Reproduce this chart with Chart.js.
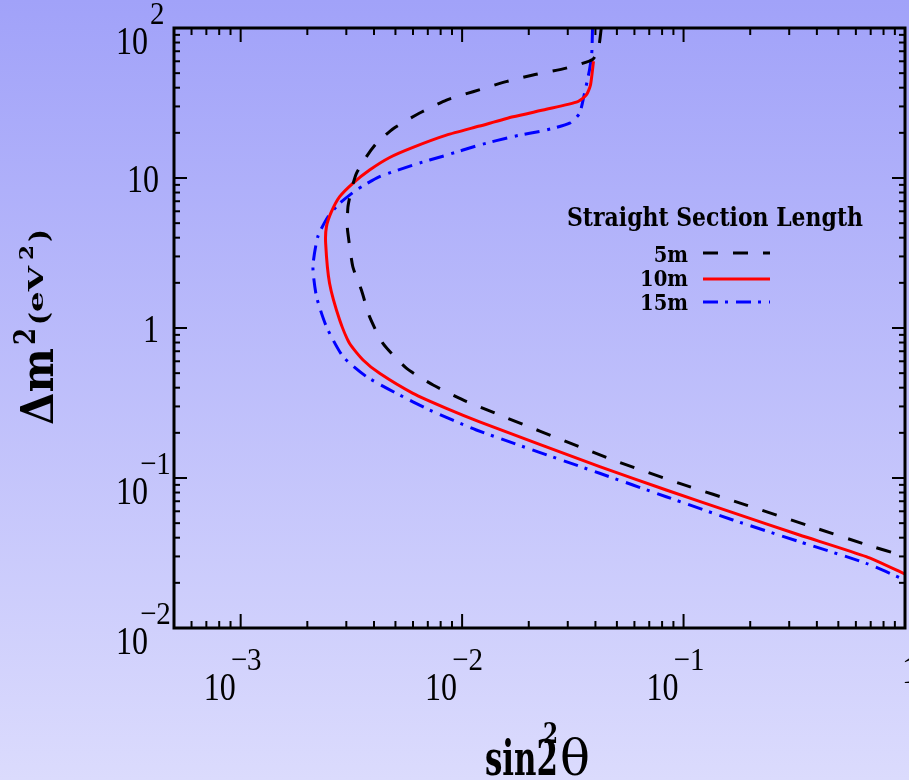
<!DOCTYPE html>
<html><head><meta charset="utf-8">
<script src="https://cdn.jsdelivr.net/npm/chart.js@4/dist/chart.umd.min.js"></script>
<style>
html,body{margin:0;padding:0;background:linear-gradient(#a1a2f9,#dbdbfd);}
canvas{display:block}
</style>
</head><body>
<canvas id="c" width="909" height="780"></canvas>
<script>
// ---- data ----
const seriesNames = ['5m', '10m', '15m'];

const x5m = [0.0425, 0.0414, 0.0390, 0.0295, 0.0209, 0.0158, 0.0112, 0.0085, 0.0064, 0.0049, 0.0041, 0.0037, 0.00333, 0.00316, 0.00305, 0.00303, 0.00305, 0.00321, 0.00351, 0.00382, 0.00439, 0.0056, 0.0074, 0.0105, 0.048, 0.096, 0.192, 0.384, 0.668, 1.0];
const y5m = [100, 75, 62, 54, 48.6, 43.9, 37.6, 33.1, 27.0, 21.4, 17.0, 13.9, 10.7, 8.3, 6.4, 4.74, 4.28, 2.56, 1.79, 1.19, 0.79, 0.54, 0.417, 0.323, 0.132, 0.092, 0.066, 0.047, 0.036, 0.030];

const x10m = [0.0392, 0.0380, 0.0364, 0.0333, 0.0240, 0.0170, 0.0120, 0.00849, 0.0060, 0.00471, 0.00382, 0.00321, 0.0028, 0.00257, 0.00244, 0.00242, 0.00252, 0.0028, 0.0031, 0.00357, 0.00424, 0.0060, 0.00849, 0.0120, 0.0418, 0.0835, 0.167, 0.334, 0.668, 1.0];
const y10m = [60, 41.7, 35.8, 32.3, 28.7, 25.6, 22.2, 19.3, 16.0, 13.7, 11.3, 9.22, 7.51, 5.96, 4.74, 3.67, 1.99, 1.13, 0.791, 0.612, 0.499, 0.367, 0.2915, 0.237, 0.119, 0.0832, 0.0587, 0.0417, 0.0299, 0.0229];

const x15m = [0.0388, 0.0385, 0.0376, 0.0357, 0.0339, 0.0306, 0.0240, 0.0170, 0.0120, 0.00849, 0.0060, 0.00424, 0.00333, 0.0028, 0.00248, 0.00223, 0.00212, 0.0022, 0.00244, 0.0029, 0.0037, 0.00505, 0.00713, 0.0116, 0.0418, 0.0835, 0.167, 0.334, 0.668, 1.0];
const y15m = [100, 67.8, 52.5, 36.7, 27.0, 23.2, 20.9, 18.9, 16.6, 14.2, 12.2, 10.2, 8.32, 6.78, 5.52, 4.06, 2.56, 1.62, 1.02, 0.644, 0.474, 0.367, 0.284, 0.209, 0.1075, 0.075, 0.0525, 0.0376, 0.027, 0.0209];

const xRange = [5e-4, 1];
const yRange = [0.01, 100];
const xTickValues = [1e-3, 1e-2, 1e-1, 1];
const xTickLabels = [['10', '\u22123'], ['10', '\u22122'], ['10', '\u22121'], ['1', '']];
const yTickValues = [0.01, 0.1, 1, 10, 100];
const yTickLabels = [['10', '\u22122'], ['10', '\u22121'], ['1', ''], ['10', ''], ['10', '2']];
const minorMult = [2, 3, 4, 5, 6, 7, 8, 9];
const xDecades = [1e-4, 1e-3, 1e-2, 1e-1];
const yDecades = [1e-2, 1e-1, 1, 10];

const legendTitle = 'Straight Section Length';
const xTitle = ['sin', '2', '2', '\u03b8'];
const yTitle = ['\u0394m', '2', '(', 'eV', '2', ')'];

// ---- helpers ----
function pts(xs, ys) { return xs.map((v, i) => ({ x: v, y: ys[i] })); }
function measureFit(ctx, str, font, w, h, ref) {
  ctx.font = font;
  const m = ctx.measureText(str);
  const r = ctx.measureText(ref);
  return [w / m.width, h / r.actualBoundingBoxAscent];
}
function drawScaled(ctx, str, font, x, base, sx, sy, align) {
  ctx.save();
  ctx.translate(x, base);
  ctx.scale(sx, sy);
  ctx.font = font;
  ctx.textAlign = align || 'left';
  ctx.textBaseline = 'alphabetic';
  ctx.fillStyle = '#000';
  ctx.fillText(str, 0, 0);
  ctx.restore();
}
function fitText(ctx, str, font, x, base, w, h, ref, align) {
  const s = measureFit(ctx, str, font, w, h, ref);
  drawScaled(ctx, str, font, x, base, s[0], s[1], align);
  return s;
}
function minorVals(decades, lo, hi) {
  const out = [];
  decades.forEach(d => minorMult.forEach(m => { const v = d * m; if (v > lo * 1.0001 && v < hi * 0.9999) out.push(v); }));
  return out;
}

const bgPlugin = {
  id: 'bg',
  beforeDraw(chart) {
    const { ctx, width, height } = chart;
    const g = ctx.createLinearGradient(0, 0, 0, height);
    g.addColorStop(0, '#a1a2f9');
    g.addColorStop(1, '#dbdbfd');
    ctx.save();
    ctx.fillStyle = g;
    ctx.fillRect(0, 0, width, height);
    ctx.restore();
  }
};

const TICK_BASE = '32px "Liberation Serif"';
const TICK_EXP = '29px "Liberation Serif"';
const TSY = 1.25;
const ESY = 1.1;

const framePlugin = {
  id: 'frame',
  afterDatasetsDraw(chart) {
    const { ctx, chartArea: a, scales: { x, y } } = chart;
    ctx.save();
    ctx.strokeStyle = '#000';
    ctx.lineWidth = 2;
    const seg = (x1, y1, x2, y2) => { ctx.beginPath(); ctx.moveTo(x1, y1); ctx.lineTo(x2, y2); ctx.stroke(); };
    minorVals(xDecades, xRange[0], xRange[1]).forEach(v => {
      const p = x.getPixelForValue(v);
      seg(p, a.bottom, p, a.bottom - 7); seg(p, a.top, p, a.top + 7);
    });
    xTickValues.forEach(v => {
      const p = x.getPixelForValue(v);
      seg(p, a.bottom, p, a.bottom - 14); seg(p, a.top, p, a.top + 14);
    });
    minorVals(yDecades, yRange[0], yRange[1]).forEach(v => {
      const p = y.getPixelForValue(v);
      seg(a.left, p, a.left + 6, p); seg(a.right, p, a.right - 6, p);
    });
    yTickValues.forEach(v => {
      const p = y.getPixelForValue(v);
      seg(a.left, p, a.left + 13, p); seg(a.right, p, a.right - 13, p);
    });
    ctx.lineWidth = 3;
    ctx.strokeRect(a.left, a.top, a.right - a.left, a.bottom - a.top);
    ctx.restore();

    // y tick labels
    yTickValues.forEach((v, i) => {
      const ty = y.getPixelForValue(v);
      const [b, e] = yTickLabels[i];
      if (e) {
        const bx = a.left - 26;
        drawScaled(ctx, b, TICK_BASE, bx, ty + 26, 1, TSY, 'right');
        const ex = bx + (e.startsWith('\u2212') ? -8 : 2);
        drawScaled(ctx, e, TICK_EXP, ex, ty - 4, 1, ESY, 'left');
      } else {
        drawScaled(ctx, b, TICK_BASE, a.left - 15, ty + 14, 1, TSY, 'right');
      }
    });
    // x tick labels
    xTickValues.forEach((v, i) => {
      const tx = x.getPixelForValue(v);
      const [b, e] = xTickLabels[i];
      if (e) {
        const bx = tx - 37;
        drawScaled(ctx, b, TICK_BASE, bx, a.bottom + 72, 1, TSY, 'left');
        drawScaled(ctx, e, TICK_EXP, bx + 27, a.bottom + 42, 1, ESY, 'left');
      } else {
        drawScaled(ctx, b, TICK_BASE, tx - 3, a.bottom + 55, 1, TSY, 'left');
      }
    });

    // axis titles
    const BF = 'bold 40px "DejaVu Serif"';
    const RF = '40px "DejaVu Serif"';
    fitText(ctx, xTitle[0] + xTitle[2], BF, 485, 775, 73, 37, '2');
    fitText(ctx, xTitle[1], BF, 543, 743, 15, 21, '2');
    fitText(ctx, xTitle[3], RF, 560, 775, 30, 38, '\u03b8');

    ctx.save();
    ctx.translate(53, 425);
    ctx.rotate(-Math.PI / 2);
    fitText(ctx, yTitle[0], BF, 0, 0, 77, 33, '\u0394');
    fitText(ctx, yTitle[1], BF, 80, -18, 17, 22, '2');
    const ps = fitText(ctx, yTitle[2], BF, 100, -5, 13, 20, '(');
    fitText(ctx, yTitle[3], BF, 113, -10, 46, 15, 'V');
    fitText(ctx, yTitle[4], BF, 165, -20, 15, 14, '2');
    drawScaled(ctx, yTitle[5], BF, 183, -5, ps[0], ps[1], 'left');
    ctx.restore();

    // legend
    const LF = 'bold 40px "DejaVu Serif"';
    fitText(ctx, legendTitle, LF, 567, 226, 296, 19, 'S');
    const ls = measureFit(ctx, '10m', LF, 48, 16.5, '1');
    const rows = [[261.5, 253], [286, 279], [310, 302]];
    chart.data.datasets.forEach((ds, i) => {
      drawScaled(ctx, ds.label, LF, 688, rows[i][0], ls[0], ls[1], 'right');
      ctx.save();
      ctx.strokeStyle = ds.borderColor;
      ctx.lineWidth = ds.borderWidth;
      ctx.setLineDash(ds.borderDash || []);
      ctx.beginPath(); ctx.moveTo(703, rows[i][1]); ctx.lineTo(770, rows[i][1]); ctx.stroke();
      ctx.restore();
    });
  }
};

new Chart(document.getElementById('c'), {
  type: 'scatter',
  data: {
    datasets: [
      { label: seriesNames[0], data: pts(x5m, y5m), borderColor: '#000000', borderWidth: 3, borderDash: [15, 15] },
      { label: seriesNames[1], data: pts(x10m, y10m), borderColor: '#ff0000', borderWidth: 3, borderDash: [] },
      { label: seriesNames[2], data: pts(x15m, y15m), borderColor: '#0000ff', borderWidth: 3, borderDash: [15, 7, 3, 8] }
    ].map(d => Object.assign(d, { showLine: true, pointRadius: 0, tension: 0.2, fill: false }))
  },
  options: {
    responsive: false,
    animation: false,
    layout: { padding: { left: 174, right: 4, top: 28, bottom: 152 } },
    plugins: { legend: { display: false }, tooltip: { enabled: false } },
    scales: {
      x: { type: 'logarithmic', min: xRange[0], max: xRange[1], display: false },
      y: { type: 'logarithmic', min: yRange[0], max: yRange[1], display: false }
    }
  },
  plugins: [bgPlugin, framePlugin]
});
</script>
</body></html>
